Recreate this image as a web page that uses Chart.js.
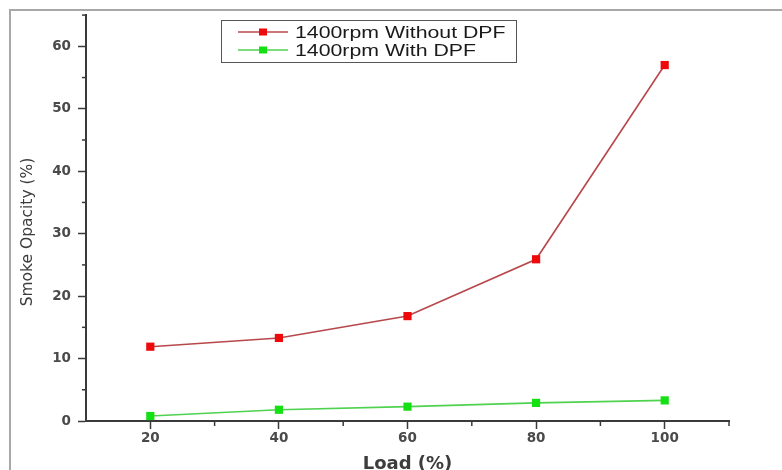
<!DOCTYPE html>
<html>
<head>
<meta charset="utf-8">
<script src="https://cdn.jsdelivr.net/npm/chart.js@4.4.1/dist/chart.umd.min.js"></script>
<style>
  html, body { margin: 0; padding: 0; background: #fff; overflow: hidden; }
  canvas { display: block; }
</style>
</head>
<body>
<canvas id="grafico" width="782" height="470"></canvas>
<script>
// dados
const loads = [20, 40, 60, 80, 100]
const withoutDpf = [11.9, 13.3, 16.8, 25.9, 57.0]
const withDpf = [0.8, 1.8, 2.3, 2.9, 3.3]
const seriesLabels = ['1400rpm Without DPF', '1400rpm With DPF']
const xTitle = 'Load (%)'
const yTitle = 'Smoke Opacity (%)'

const axisColor = '#3a3a3a'
const tickFont = { family: 'DejaVu Sans', size: 13.5, weight: 'bold' }

// moldura cinza (so topo e esquerda, como no recorte original)
const moldura = {
  id: 'moldura',
  beforeDraw(chart) {
    const ctx = chart.ctx
    ctx.save()
    ctx.fillStyle = '#fff'
    ctx.fillRect(0, 0, chart.width, chart.height)
    ctx.strokeStyle = '#a8a8a8'
    ctx.lineWidth = 2
    ctx.beginPath()
    ctx.moveTo(10, chart.height)
    ctx.lineTo(10, 10)
    ctx.lineTo(chart.width, 10)
    ctx.stroke()
    ctx.restore()
  }
}

// ticks menores (mais curtos), titulo do eixo y e legenda
const extras = {
  id: 'extras',
  afterDraw(chart) {
    const ctx = chart.ctx
    const xs = chart.scales.x
    const ys = chart.scales.y
    ctx.save()
    ctx.strokeStyle = axisColor
    ctx.lineWidth = 1.5
    // minor ticks
    for (let v = 5; v <= 65; v += 10) {
      const py = ys.getPixelForValue(v)
      ctx.beginPath(); ctx.moveTo(xs.left - 4, py); ctx.lineTo(xs.left, py); ctx.stroke()
    }
    for (let v = 30; v <= 110; v += 20) {
      const px = xs.getPixelForValue(v)
      ctx.beginPath(); ctx.moveTo(px, ys.bottom); ctx.lineTo(px, ys.bottom + 5); ctx.stroke()
    }
    // y title
    ctx.translate(28, 232)
    ctx.rotate(-Math.PI / 2)
    ctx.fillStyle = '#3c3c3c'
    ctx.font = '15.5px "DejaVu Sans"'
    ctx.textAlign = 'center'
    ctx.textBaseline = 'middle'
    ctx.fillText(yTitle, 0, 0)
    ctx.restore()

    // legenda
    ctx.save()
    ctx.strokeStyle = '#555'
    ctx.lineWidth = 1
    ctx.strokeRect(221.5, 20.5, 295, 42)
    const rows = [32, 50]
    chart.data.datasets.forEach((ds, i) => {
      const y = rows[i]
      ctx.strokeStyle = ds.borderColor
      ctx.lineWidth = 1.5
      ctx.beginPath(); ctx.moveTo(238, y); ctx.lineTo(288, y); ctx.stroke()
      ctx.fillStyle = ds.pointBackgroundColor
      ctx.fillRect(259, y - 3.5, 8, 7)
      ctx.save()
      ctx.translate(295, y)
      ctx.scale(1.29, 1)
      ctx.fillStyle = '#1a1a1a'
      ctx.font = '16.5px "Liberation Sans"'
      ctx.textBaseline = 'middle'
      ctx.fillText(ds.label, 0, 1)
      ctx.restore()
    })
    ctx.restore()
  }
}

const canvas = document.getElementById('grafico')
const ctx = canvas.getContext('2d')

const chart = new Chart(ctx, {
  type: 'scatter',
  data: {
    datasets: [{
      label: seriesLabels[0],
      data: loads.map((value, index) => ({ x: value, y: withoutDpf[index] })),
      showLine: true,
      borderColor: '#b8474c',
      borderWidth: 1.6,
      pointStyle: 'rect',
      pointRadius: 5.8,
      pointBackgroundColor: '#ee0a0a',
      pointBorderColor: '#ee0a0a',
      pointBorderWidth: 0
    }, {
      label: seriesLabels[1],
      data: loads.map((value, index) => ({ x: value, y: withDpf[index] })),
      showLine: true,
      borderColor: '#4fd24f',
      borderWidth: 1.6,
      pointStyle: 'rect',
      pointRadius: 5.8,
      pointBackgroundColor: '#14e014',
      pointBorderColor: '#14e014',
      pointBorderWidth: 0
    }]
  },
  options: {
    responsive: false,
    animation: false,
    layout: { padding: { top: 14, right: 53, left: 0, bottom: 0 } },
    plugins: {
      legend: { display: false },
      tooltip: { enabled: false }
    },
    scales: {
      x: {
        type: 'linear',
        min: 10,
        max: 110,
        afterFit: (s) => { s.height = 49 },
        border: { display: true, color: axisColor, width: 2 },
        grid: {
          drawOnChartArea: false,
          tickLength: 8,
          tickColor: axisColor,
          tickWidth: (c) => (c.tick && c.tick.value % 20 === 0 ? 1.5 : 0)
        },
        ticks: {
          stepSize: 10,
          padding: 1,
          color: '#4a4a4a',
          font: tickFont,
          maxRotation: 0,
          autoSkip: false,
          callback: (v) => (v % 20 === 0 ? v : '')
        },
        title: {
          display: true,
          text: xTitle,
          color: '#3c3c3c',
          font: { family: 'DejaVu Sans', size: 18, weight: 'bold', lineHeight: 0.65 },
          padding: 0
        }
      },
      y: {
        min: 0,
        max: 65,
        afterFit: (s) => { s.width = 86 },
        border: { display: true, color: axisColor, width: 2 },
        grid: {
          drawOnChartArea: false,
          tickLength: 8,
          tickColor: axisColor,
          tickWidth: (c) => (c.tick && c.tick.value % 10 === 0 ? 1.5 : 0)
        },
        ticks: {
          stepSize: 5,
          padding: 7,
          color: '#4a4a4a',
          font: tickFont,
          autoSkip: false,
          callback: (v) => (v % 10 === 0 ? v : '')
        }
      }
    }
  },
  plugins: [moldura, extras]
})
</script>
</body>
</html>
